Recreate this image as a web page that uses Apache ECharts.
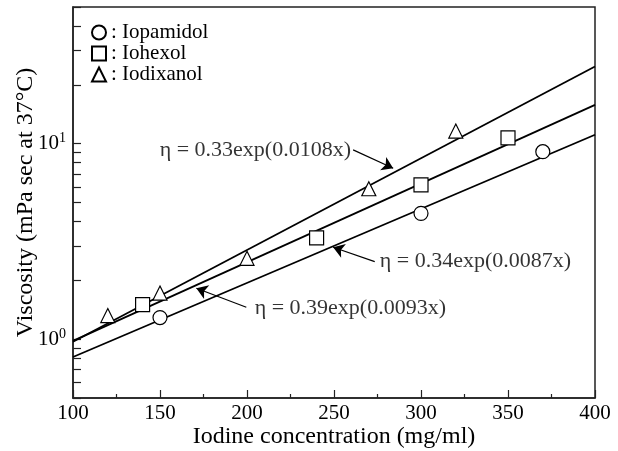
<!DOCTYPE html>
<html>
<head>
<meta charset="utf-8">
<script src="https://cdn.jsdelivr.net/npm/echarts@6/dist/echarts.min.js"></script>
<style>
html,body{margin:0;padding:0;background:#fff;}
#chart{width:618px;height:451px;}
</style>
</head>
<body>
<div id="chart"></div>
<script>
// ---- data ----
var seriesNames = ['Iopamidol', 'Iohexol', 'Iodixanol'];
var iopamidol = [[150, 1.29], [300, 4.4], [370, 9.1]];
var iohexol = [[140, 1.5], [240, 3.3], [300, 6.15], [350, 10.7]];
var iodixanol = [[120, 1.32], [150, 1.72], [200, 2.59], [270, 5.88], [320, 11.6]];
// fitted lines (end points at x = 100 and x = 400)
var fitIopamidol = [[100, 0.81], [400, 11.1]];
var fitIohexol = [[100, 0.98], [400, 15.8]];
var fitIodixanol = [[100, 0.97], [400, 24.8]];
// annotation texts, anchors and arrows (data coordinates)
var noteTexts = ['\u03b7 = 0.33exp(0.0108x)', '\u03b7 = 0.34exp(0.0087x)', '\u03b7 = 0.39exp(0.0093x)'];
var noteAnchors = [[149.8, 9.29], [276.3, 2.49], [204.4, 1.44]];
var arrowFrom = [[261, 9.29], [273.4, 2.49], [199.6, 1.456]];
var arrowTo = [[284, 7.49], [249.5, 2.95], [170.9, 1.82]];
// axis ticks
var xMin = 100, xMax = 400, xStep = 50;
var yMin = 0.5, yMax = 50;
var yTickValues = [0.5, 0.6, 0.7, 0.8, 0.9, 1, 2, 3, 4, 5, 6, 7, 8, 9, 10, 20, 30, 40, 50];
var yLabelValues = [1, 10];

var FONT = "'Liberation Serif', 'Times New Roman', serif";
var chart = echarts.init(document.getElementById('chart'), null, {renderer: 'canvas'});

function fitSeries(data) {
  return {
    type: 'line', data: data, symbol: 'none', silent: true, z: 2,
    lineStyle: {color: '#000', width: 1.8}
  };
}
function pointSeries(name, data, symbol) {
  return {
    name: name, type: 'scatter', data: data, symbol: symbol, symbolSize: 14, z: 5,
    itemStyle: {color: '#fff', borderColor: '#000', borderWidth: 1.2, opacity: 1}
  };
}

var noteData = noteAnchors.map(function (p, i) { return {value: p, text: noteTexts[i]}; });
var arrowData = arrowFrom.map(function (p, i) { return [{coord: p}, {coord: arrowTo[i]}]; });

chart.setOption({
  animation: false,
  backgroundColor: '#fff',
  grid: {left: 73, right: 23, top: 7, bottom: 53, show: true, borderColor: '#222', borderWidth: 1.5,
         containLabel: false, outerBoundsMode: 'none'},
  legend: {
    data: seriesNames,
    orient: 'vertical', left: 86, top: 17,
    itemWidth: 14, itemHeight: 14, itemGap: 0, itemTextGap: 16,
    formatter: function (n) { return ': ' + n; },
    textStyle: {fontFamily: FONT, fontSize: 21, color: '#000'}
  },
  xAxis: {
    type: 'value', min: xMin, max: xMax, interval: xStep,
    name: 'Iodine concentration (mg/ml)', nameLocation: 'middle', nameGap: 27, nameMoveOverlap: false,
    nameTextStyle: {fontFamily: FONT, fontSize: 24, color: '#000'},
    axisLine: {lineStyle: {color: '#222', width: 1.5}},
    axisTick: {inside: true, length: 8, lineStyle: {color: '#222', width: 1.2}},
    minorTick: {show: true, splitNumber: 2, length: 4, lineStyle: {color: '#222', width: 1.2}},
    axisLabel: {fontFamily: FONT, fontSize: 21, color: '#000', margin: 5},
    splitLine: {show: false}
  },
  yAxis: {
    type: 'log', logBase: 10, min: yMin, max: yMax,
    name: 'Viscosity (mPa sec at 37\u00b0C)', nameLocation: 'middle', nameGap: 35, nameMoveOverlap: false,
    nameTextStyle: {fontFamily: FONT, fontSize: 24, color: '#000'},
    axisLine: {lineStyle: {color: '#222', width: 1.5}},
    axisTick: {inside: true, length: 8, customValues: yTickValues, lineStyle: {color: '#222', width: 1.2}},
    axisLabel: {
      customValues: yLabelValues, margin: 7,
      formatter: function (v) { return '10{s|' + Math.round(Math.log10(v)) + '}'; },
      fontFamily: FONT, fontSize: 21, color: '#000',
      rich: {s: {fontFamily: FONT, fontSize: 14, color: '#000', padding: [0, 0, 10, 0]}}
    },
    splitLine: {show: false}
  },
  series: [
    fitSeries(fitIopamidol),
    fitSeries(fitIohexol),
    fitSeries(fitIodixanol),
    pointSeries(seriesNames[0], iopamidol, 'circle'),
    pointSeries(seriesNames[1], iohexol, 'rect'),
    pointSeries(seriesNames[2], iodixanol, 'triangle'),
    {
      type: 'scatter', data: noteData, symbolSize: 0, silent: true, z: 6,
      label: {
        show: true, position: 'right', distance: 0,
        formatter: function (p) { return p.data.text; },
        fontFamily: FONT, fontSize: 22, color: '#000'
      },
      markLine: {
        silent: true, symbol: ['none', 'arrow'], symbolSize: 11,
        label: {show: false},
        lineStyle: {color: '#000', width: 1.2, type: 'solid'},
        data: arrowData
      }
    }
  ]
});
</script>
</body>
</html>
